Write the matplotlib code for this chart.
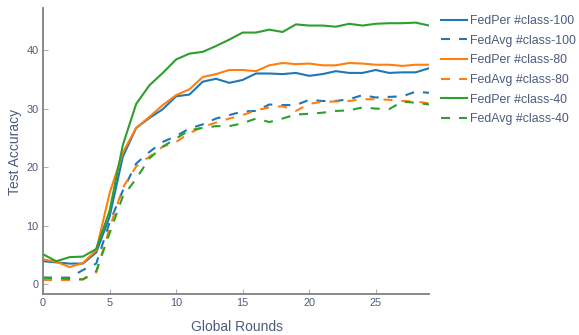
import matplotlib
matplotlib.use('Agg')
import matplotlib.pyplot as plt
import numpy as np

# global rounds 0..29
rounds = np.arange(30)

perClass100 = [3.9, 3.7, 3.5, 3.5, 5.4, 11.5, 21.8, 26.7, 28.4, 29.9,
               32.1, 32.4, 34.6, 35.1, 34.4, 34.9, 36.0, 36.0, 35.9, 36.1,
               35.6, 35.9, 36.4, 36.1, 36.1, 36.6, 36.1, 36.2, 36.2, 36.9]
avgClass100 = [1.1, 1.1, 1.1, 2.4, 3.5, 10.5, 16.0, 20.6, 22.6, 24.3,
               25.3, 26.6, 27.3, 28.3, 28.9, 29.5, 29.6, 30.7, 30.6, 30.6,
               31.5, 31.3, 31.3, 31.6, 32.3, 31.9, 32.0, 32.1, 32.9, 32.7]
perClass80 = [4.2, 3.8, 2.9, 3.6, 5.8, 15.5, 22.5, 26.7, 28.6, 30.6,
              32.3, 33.3, 35.4, 35.9, 36.6, 36.6, 36.4, 37.4, 37.8, 37.6,
              37.7, 37.4, 37.4, 37.8, 37.7, 37.5, 37.5, 37.3, 37.5, 37.5]
avgClass80 = [0.7, 0.7, 0.7, 0.8, 2.0, 9.5, 16.5, 20.1, 21.8, 23.5,
              24.3, 25.8, 26.9, 27.6, 28.3, 28.9, 29.7, 30.2, 30.4, 29.6,
              30.8, 31.2, 31.2, 31.3, 31.6, 31.6, 31.5, 31.3, 31.2, 30.9]
perClass40 = [5.1, 3.9, 4.6, 4.7, 6.0, 12.5, 23.8, 30.8, 34.0, 36.1,
              38.4, 39.4, 39.7, 40.7, 41.8, 43.0, 43.0, 43.5, 43.1, 44.4,
              44.2, 44.2, 44.0, 44.5, 44.2, 44.5, 44.6, 44.6, 44.7, 44.2]
avgClass40 = [1.1, 1.0, 0.9, 0.8, 2.2, 8.7, 15.0, 18.0, 21.5, 23.5,
              24.9, 26.3, 26.7, 27.0, 27.0, 27.5, 28.3, 27.7, 28.3, 29.0,
              29.1, 29.3, 29.6, 29.7, 30.2, 30.0, 29.9, 31.2, 31.0, 30.7]

series = [
    ('FedPer #class-100', perClass100, '#1f77b4', False),
    ('FedAvg #class-100', avgClass100, '#1f77b4', True),
    ('FedPer #class-80', perClass80, '#ff7f0e', False),
    ('FedAvg #class-80', avgClass80, '#ff7f0e', True),
    ('FedPer #class-40', perClass40, '#2ca02c', False),
    ('FedAvg #class-40', avgClass40, '#2ca02c', True),
]

textColor = '#4d5b7c'
plt.rcParams['font.family'] = ['Liberation Sans', 'DejaVu Sans']
plt.rcParams['lines.scale_dashes'] = False

fig = plt.figure(figsize=(5.79, 3.35), dpi=100)
ax = fig.add_axes([43/579, 1-294/335, (429-43)/579, (294-8)/335])

for label, values, color, dashed in series:
    line, = ax.plot(rounds, values, color=color, lw=1.5, label=label,
                    solid_joinstyle='round')
    if dashed:
        line.set_dashes((6.5, 6.5))

ax.set_xlim(0, 29)
ax.set_ylim(-1.7, 47.2)
ax.set_xticks([0, 5, 10, 15, 20, 25])
ax.set_yticks([0, 10, 20, 30, 40])

for side in ['top', 'right']:
    ax.spines[side].set_visible(False)
for side in ['left', 'bottom']:
    ax.spines[side].set_color('#808080')
    ax.spines[side].set_linewidth(1.3)

ax.tick_params(direction='in', length=3.5, width=0.8, color='#b0b0b0',
               labelsize=7.9, labelcolor=textColor, pad=3)

fig.text(237/579, 1-327/335, 'Global Rounds', ha='center', va='center',
         fontsize=10, color=textColor)
fig.text(15/579, 1-152/335, 'Test Accuracy', ha='center', va='center',
         rotation=90, fontsize=10, color=textColor)

leg = fig.legend(loc='upper left', bbox_to_anchor=(441/579, 1-15/335),
                 frameon=False, fontsize=8.9, handlelength=2.1,
                 handletextpad=0.25, labelspacing=0.62, borderpad=0,
                 borderaxespad=0)
for text in leg.get_texts():
    text.set_color(textColor)

fig.savefig('out.png', dpi=100)
plt.close(fig)
